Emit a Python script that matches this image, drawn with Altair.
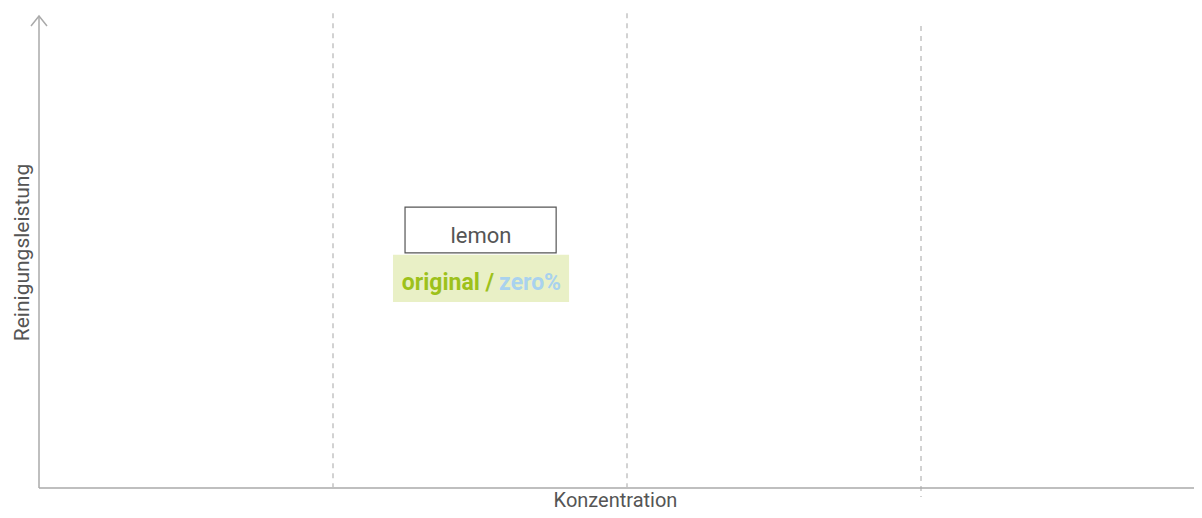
import altair as alt
import pandas as pd

# --- data ---
divider_x = [1, 2, 3]
divider_y_top = [1.006, 1.006, 0.979]
divider_y_bottom = [0.002, 0.002, -0.019]

product_label = ["lemon"]
product_box_x = [1.245]
product_box_x2 = [1.759]
product_box_y = [0.498]
product_box_y2 = [0.595]
product_text_x = [1.503]
product_text_y = [0.534]

variant_box_x = [1.204]
variant_box_x2 = [1.803]
variant_box_y = [0.394]
variant_box_y2 = [0.494]
variant_labels = ["original /", "zero%"]
variant_text_x = [1.548, 1.565]
variant_text_y = [0.434, 0.434]
variant_colors = ["#9dc11b", "#a9d2ee"]

x_title = "Konzentration"
y_title = "Reinigungsleistung"

FONT = "Roboto, sans-serif"
GRAY = "#555555"
AXIS = "#aaaaaa"

PLOT_W = 1155
X_MAX = PLOT_W / 294
xs = alt.Scale(domain=[0, X_MAX], nice=False, zero=False)
ys = alt.Scale(domain=[0, 1], nice=False, zero=False)

dividers = pd.DataFrame({"x": divider_x, "y": divider_y_top, "y2": divider_y_bottom})
div_layer = alt.Chart(dividers).mark_rule(
    color="#b5b5b5", strokeWidth=1.2, strokeDash=[5, 5]
).encode(
    x=alt.X("x:Q", scale=xs, axis=alt.Axis(domain=False, ticks=False, labels=False, grid=False,
                                             title=x_title, titleX=576, titleY=22,
                                             titleBaseline="bottom", titleFont=FONT,
                                             titleFontSize=20, titleFontWeight="normal",
                                             titleColor=GRAY)),
    y=alt.Y("y:Q", scale=ys, axis=alt.Axis(domain=False, ticks=False, labels=False, grid=False,
                                            title=y_title, titleX=-17, titleY=236, titleAngle=-90,
                                            titleBaseline="middle", titleFont=FONT,
                                            titleFontSize=21, titleFontWeight="normal",
                                            titleColor=GRAY)),
    y2="y2:Q",
)

axes_df = pd.DataFrame({"x": [0, 0], "x2": [0, 4.2], "y": [0, 0], "y2": [1, 0]})
axis_layer = alt.Chart(axes_df).mark_rule(color=AXIS, strokeWidth=1.5).encode(
    x=alt.X("x:Q", scale=xs), x2="x2:Q", y=alt.Y("y:Q", scale=ys), y2="y2:Q"
)

up_arrow = alt.Chart(pd.DataFrame({"x": [0], "y": [1]})).mark_point(
    shape="M -0.8 1 L 0 0 L 0.8 1", size=400, filled=False, color=AXIS, strokeWidth=1.5, opacity=1
).encode(x=alt.X("x:Q", scale=xs), y=alt.Y("y:Q", scale=ys))

variant_box = alt.Chart(pd.DataFrame({"x": variant_box_x, "x2": variant_box_x2,
                                      "y": variant_box_y, "y2": variant_box_y2})).mark_rect(
    color="#e9f0c6"
).encode(x=alt.X("x:Q", scale=xs), x2="x2:Q", y=alt.Y("y:Q", scale=ys), y2="y2:Q")

product_box = alt.Chart(pd.DataFrame({"x": product_box_x, "x2": product_box_x2,
                                      "y": product_box_y, "y2": product_box_y2})).mark_rect(
    fill="white", stroke=GRAY, strokeWidth=1.2
).encode(x=alt.X("x:Q", scale=xs), x2="x2:Q", y=alt.Y("y:Q", scale=ys), y2="y2:Q")

product_text = alt.Chart(pd.DataFrame({"label": product_label, "x": product_text_x,
                                       "y": product_text_y})).mark_text(
    font=FONT, fontSize=22, color=GRAY, baseline="middle", align="center"
).encode(x=alt.X("x:Q", scale=xs), y=alt.Y("y:Q", scale=ys), text="label:N")

vdf = pd.DataFrame({"label": variant_labels, "x": variant_text_x, "y": variant_text_y,
                    "c": variant_colors})
variant_left = alt.Chart(vdf.iloc[[0]]).mark_text(
    font=FONT, fontSize=23, fontWeight="bold", baseline="middle", align="right"
).encode(x=alt.X("x:Q", scale=xs), y=alt.Y("y:Q", scale=ys), text="label:N",
         color=alt.Color("c:N", scale=None))
variant_right = alt.Chart(vdf.iloc[[1]]).mark_text(
    font=FONT, fontSize=23, fontWeight="bold", baseline="middle", align="left"
).encode(x=alt.X("x:Q", scale=xs), y=alt.Y("y:Q", scale=ys), text="label:N",
         color=alt.Color("c:N", scale=None))

chart = alt.layer(
    div_layer, axis_layer, up_arrow, variant_box, product_box,
    product_text, variant_left, variant_right
).properties(
    width=PLOT_W, height=472,
    autosize=alt.AutoSizeParams(type="none"),
    padding={"left": 31, "top": 8, "right": 0, "bottom": 22},
).configure_view(stroke=None)

chart.save("out.html", embed_options={"renderer": "svg", "actions": False})
